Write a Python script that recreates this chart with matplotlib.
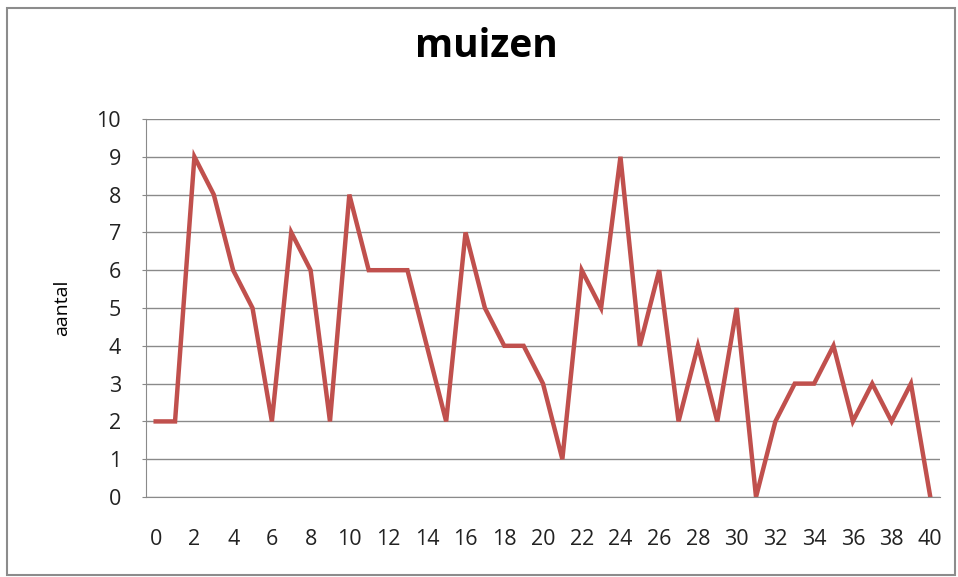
import numpy as np
import matplotlib.pyplot as plt
from matplotlib.patches import Rectangle

plt.rcParams['font.family'] = ['Open Sans', 'DejaVu Sans']

days = list(range(41))
muizen = [2, 2, 9, 8, 6, 5, 2, 7, 6, 2,
          8, 6, 6, 6, 4, 2, 7, 5, 4, 4,
          3, 1, 6, 5, 9, 4, 6, 2, 4, 2,
          5, 0, 2, 3, 3, 4, 2, 3, 2, 3, 0]
x_ticks = list(range(0, 41, 2))
y_ticks = list(range(0, 11))

fig = plt.figure(figsize=(9.58, 5.77), dpi=100)
ax = fig.add_axes([0.1524, 0.1386, 0.8288, 0.6552])

# outer chart border
fig.patches.append(Rectangle((0.007, 0.004), 0.99, 0.982, transform=fig.transFigure,
                             fill=False, edgecolor='#8c8c8c', linewidth=1.5))

ax.plot(days, muizen, color='#C0504D', linewidth=3.2, solid_joinstyle='miter')

ax.set_xlim(-0.5, 40.5)
ax.set_ylim(0, 10)
ax.set_xticks(x_ticks)
ax.set_yticks(y_ticks)
ax.tick_params(axis='x', length=0, pad=23, labelsize=15.5, colors='#222222')
ax.tick_params(axis='y', length=3, pad=15, labelsize=15.5, colors='#222222', color='#888888')

ax.grid(axis='y', color='#8a8a8a', linewidth=1)
ax.set_axisbelow(True)
for side in ['top', 'right']:
    ax.spines[side].set_visible(False)
ax.spines['left'].set_color('#8a8a8a')
ax.spines['bottom'].set_color('#8a8a8a')

ax.set_ylabel('aantal', fontsize=14, labelpad=18)
fig.text(0.508, 0.901, 'muizen', ha='center', va='baseline', fontsize=28, fontweight='bold')

plt.savefig('out.png', dpi=100)
